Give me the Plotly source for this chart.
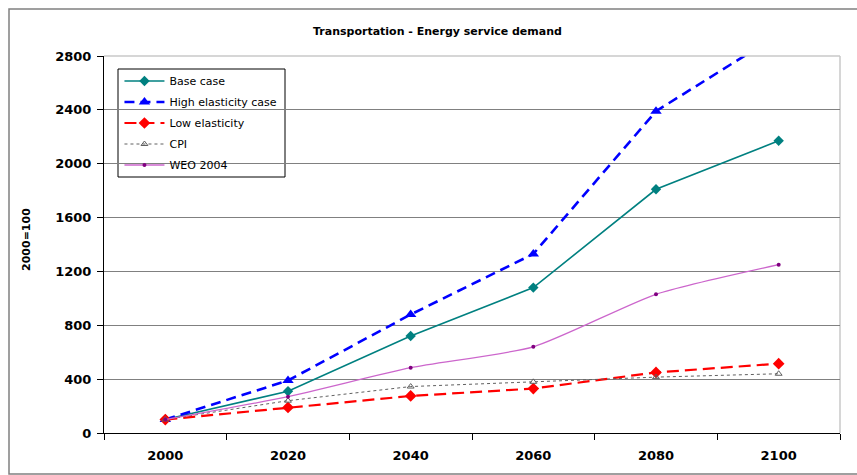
import plotly.graph_objects as go

years = ["2000", "2020", "2040", "2060", "2080", "2100"]
base_case = [100, 310, 720, 1080, 1810, 2170]
high_elasticity = [100, 390, 880, 1330, 2390, 2960]
low_elasticity = [100, 190, 275, 330, 450, 515]
cpi = [100, 240, 345, 380, 415, 440]
weo_2004 = [100, 270, 485, 640, 1030, 1250]

FONT = "DejaVu Sans, Liberation Sans, Arial, sans-serif"

fig = go.Figure()

fig.add_trace(go.Scatter(
    x=years, y=base_case, name="Base case", mode="lines+markers", legendgroup="a",
    line=dict(color="#008080", width=1.6),
    marker=dict(symbol="diamond", size=8, color="#008080"),
))
fig.add_trace(go.Scatter(
    x=years, y=high_elasticity, name="High elasticity case", mode="lines+markers",
    legendgroup="b",
    line=dict(color="#0000FF", width=2.6, dash="10px,6px"),
    marker=dict(symbol="triangle-up", size=10, color="#0000FF"),
))
fig.add_trace(go.Scatter(
    x=years, y=low_elasticity, name="Low elasticity", mode="lines+markers", legendgroup="c",
    line=dict(color="#FF0000", width=2.2, dash="12px,6px"),
    marker=dict(symbol="diamond", size=9, color="#FF0000"),
))
fig.add_trace(go.Scatter(
    x=years, y=cpi, name="CPI", mode="lines+markers", legendgroup="d",
    line=dict(color="#606060", width=1, dash="dot"),
    marker=dict(symbol="triangle-up-open", size=6, color="#606060"),
))
fig.add_trace(go.Scatter(
    x=years, y=weo_2004, name="WEO 2004", mode="lines+markers", legendgroup="e",
    line=dict(color="#CC66CC", width=1.3, shape="spline", smoothing=0.6),
    marker=dict(symbol="circle", size=4, color="#800080"),
))

fig.update_layout(
    width=857, height=475,
    margin=dict(l=104, r=17, t=56, b=42),
    paper_bgcolor="white", plot_bgcolor="white",
    font=dict(family=FONT, size=11, color="black"),
    showlegend=True,
    legend=dict(
        x=0.021, y=(433 - 66.5) / 377, xanchor="left", yanchor="top",
        bgcolor="rgba(0,0,0,0)", borderwidth=0,
        font=dict(family=FONT, size=11, color="black"),
        itemwidth=40, tracegroupgap=2,
    ),
    xaxis=dict(
        type="category", categoryorder="array", categoryarray=years,
        range=[-0.5, 5.5], tickson="boundaries",
        ticks="outside", ticklen=6, tickcolor="black",
        showline=True, linecolor="black", linewidth=1,
        showgrid=False, zeroline=False, ticklabelstandoff=10,
        tickfont=dict(family=FONT, size=13, weight="bold"),
    ),
    yaxis=dict(
        range=[0, 2800], dtick=400, tick0=0,
        ticks="outside", ticklen=6, tickcolor="black",
        showline=True, linecolor="black", linewidth=1,
        showgrid=True, gridcolor="#808080", gridwidth=1,
        zeroline=False, ticklabelstandoff=3,
        tickfont=dict(family=FONT, size=13, weight="bold"),
    ),
    annotations=[
        dict(text="<b>Transportation - Energy service demand</b>",
             xref="paper", yref="paper", x=0.4525, y=(433 - 31) / 377,
             xanchor="center", yanchor="middle", showarrow=False,
             font=dict(family=FONT, size=11)),
        dict(text="<b>2000=100</b>", textangle=-90,
             xref="paper", yref="paper", x=(27 - 104) / 736, y=0.512,
             xanchor="center", yanchor="middle", showarrow=False,
             font=dict(family=FONT, size=11)),
    ],
    shapes=[
        # legend box, above gridlines and below traces
        dict(type="rect", xref="paper", yref="paper",
             x0=(118 - 104) / 736, x1=(285 - 104) / 736,
             y0=(433 - 177) / 377, y1=(433 - 69) / 377,
             fillcolor="white", line=dict(color="black", width=1), layer="between"),
        # light plot-area border on top and right
        dict(type="line", xref="paper", yref="paper", x0=0, x1=1, y0=1, y1=1,
             line=dict(color="#C8C8C8", width=1.5), layer="above"),
        dict(type="line", xref="paper", yref="paper", x0=1, x1=1, y0=0, y1=1,
             line=dict(color="#C8C8C8", width=1.5), layer="below"),
        # chart frame
        dict(type="rect", xref="paper", yref="paper",
             x0=(9 - 104) / 736, x1=1.05, y0=(433 - 474) / 377, y1=(433 - 9) / 377,
             line=dict(color="#808080", width=1.5), layer="below"),
    ],
)

fig.write_html("out.html")
